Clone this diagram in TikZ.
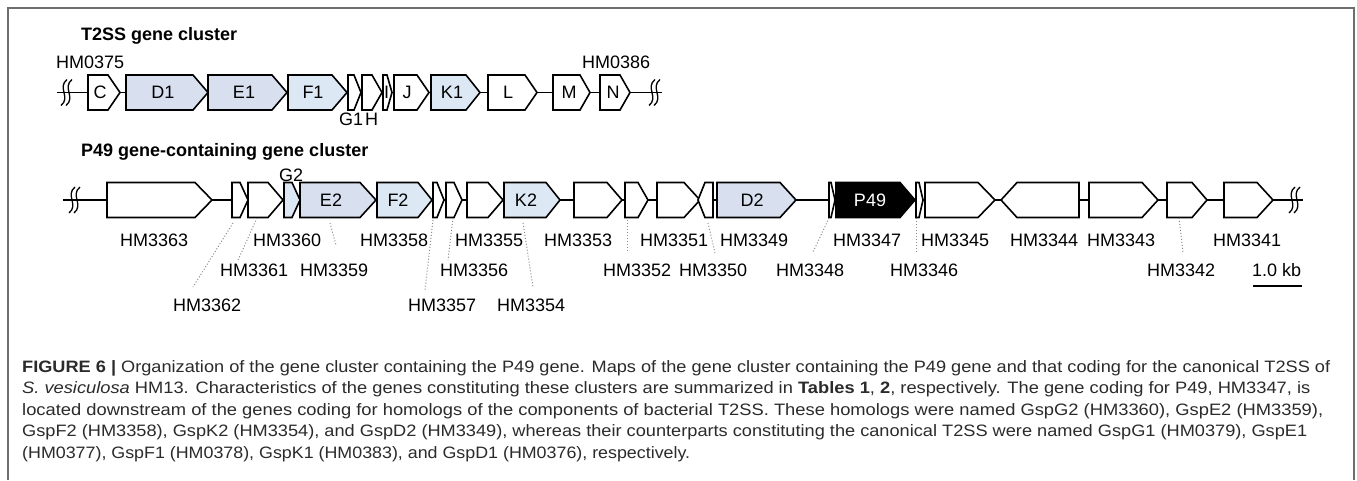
\documentclass[tikz,border=0pt]{standalone}
\usepackage{fontspec}
\setmainfont{Liberation Sans}
\usepackage{graphicx}
\definecolor{lav}{HTML}{D8E0EF}
\definecolor{lblue}{HTML}{DCE9F5}
\definecolor{framec}{HTML}{6E6E6E}
\definecolor{capc}{HTML}{2B2B2B}
\definecolor{leadc}{HTML}{8A8A8A}
% forward gene: x1, x2, y, head, fill, name
\newcommand\genef[6]{%
  \draw[genestyle,fill=#5] (#1,#3-17.5) -- ({#2-#4},#3-17.5) -- (#2,#3) -- ({#2-#4},#3+17.5) -- (#1,#3+17.5) -- cycle;
  \coordinate (#6) at ({(#1+#2)/2},#3);}
% reverse gene
\newcommand\gener[6]{%
  \draw[genestyle,fill=#5] (#1,#3) -- ({#1+#4},#3-17.5) -- (#2,#3-17.5) -- (#2,#3+17.5) -- ({#1+#4},#3+17.5) -- cycle;
  \coordinate (#6) at ({(#1+#2)/2},#3);}
% break mark
\newcommand\brkmark[2]{%
  \draw[brk] ({#1+1},#2-13) .. controls ({#1-9},#2-5) and ({#1+5},#2+5) .. ({#1-5},#2+13);
  \draw[brk] ({#1+6},#2-13) .. controls ({#1-4},#2-5) and ({#1+10},#2+5) .. ({#1},#2+13);}
\begin{document}
\begin{tikzpicture}[x=1pt,y=-1pt,
  genestyle/.style={draw=black,line width=1.6pt,line join=miter},
  lab/.style={inner sep=0pt,anchor=base west,font=\fontsize{18}{20}\selectfont},
  glab/.style={inner sep=0pt,font=\fontsize{18}{20}\selectfont},
  ttl/.style={inner sep=0pt,anchor=base west,font=\fontsize{18}{20}\selectfont\bfseries},
  lead/.style={draw=leadc,dotted,line width=1pt},
  axisline/.style={line width=1.5pt},
  brk/.style={line width=1.3pt},
  capl/.style={inner sep=0pt,anchor=base west,text=capc,font=\fontsize{16.5}{18}\selectfont}]
\useasboundingbox (0,0) rectangle (1357,480);
\fill[white] (0,0) rectangle (1357,480);
\draw[framec,line width=1.5pt] (8,480) -- (8,8) -- (1354,8) -- (1354,480);

% ---------- titles
\node[ttl] (t1) at (81,40.5) {T2SS gene cluster};
\node[ttl] (t2) at (81,156) {P49 gene-containing gene cluster};

% ---------- top cluster
\coordinate (topL) at (57,92.5);
\coordinate (topR) at (662,92.5);
\draw[axisline] (topL) -- (topR);
\brkmark{66}{92.5}
\brkmark{654}{92.5}
\genef{88}{120}{92.5}{12}{white}{gC}
\genef{126}{208}{92.5}{15}{lav}{gD1}
\genef{208}{287}{92.5}{15}{lav}{gE1}
\genef{288}{347}{92.5}{15}{lblue}{gF1}
\genef{348}{361}{92.5}{7}{white}{gG1}
\genef{362}{382}{92.5}{10}{white}{gH}
\genef{383}{392}{92.5}{5}{white}{gI}
\genef{394}{429}{92.5}{12}{white}{gJ}
\genef{431}{480}{92.5}{14}{lblue}{gK1}
\genef{488}{537}{92.5}{12}{white}{gL}
\genef{553}{590}{92.5}{10}{white}{gM}
\genef{600}{630}{92.5}{10}{white}{gN}
\node[glab] (nC) at (100,92.5) {C};
\node[glab] (nD1) at (163,92.5) {D1};
\node[glab] (nE1) at (244,92.5) {E1};
\node[glab] (nF1) at (313,92.5) {F1};
\node[glab] (nI) at (386.5,92.5) {I};
\node[glab] (nJ) at (407,92.5) {J};
\node[glab] (nK1) at (452,92.5) {K1};
\node[glab] (nL) at (508,92.5) {L};
\node[glab] (nM) at (569,92.5) {M};
\node[glab] (nN) at (613,92.5) {N};
\node[lab] (l0375) at (56,68) {HM0375};
\node[lab] (l0386) at (582,68) {HM0386};
\node[lab] (lG1) at (339,125) {G1};
\node[lab] (lH) at (365,125) {H};

% ---------- bottom cluster
\coordinate (botL) at (63,200);
\coordinate (botR) at (1303,200);
\draw[axisline] (botL) -- (botR);
\brkmark{74}{200}
\brkmark{1294}{200}
\genef{107}{212}{200}{17}{white}{g3363}
\genef{232}{248}{200}{8}{white}{g3362}
\genef{248}{283}{200}{15}{white}{g3361}
\genef{284}{300}{200}{8}{lblue}{g3360}
\genef{300}{376}{200}{16}{lav}{g3359}
\genef{377}{432}{200}{14}{lblue}{g3358}
\genef{433}{444}{200}{7}{white}{g3357}
\genef{446}{462}{200}{8}{white}{g3356}
\genef{467}{503}{200}{15}{white}{g3355}
\genef{504}{560}{200}{14}{lblue}{g3354}
\genef{574}{622}{200}{15}{white}{g3353}
\genef{625}{648}{200}{10}{white}{g3352}
\genef{657}{700}{200}{16}{white}{g3351}
\gener{698}{713}{200}{7}{white}{g3350}
\genef{717}{796}{200}{16}{lav}{g3349}
\genef{829}{835}{200}{4}{white}{g3348}
\genef{836}{915}{200}{15}{black}{g3347}
\genef{916}{923}{200}{4}{white}{g3346}
\genef{925}{995}{200}{17}{white}{g3345}
\gener{1001}{1079}{200}{16}{white}{g3344}
\genef{1089}{1158}{200}{16}{white}{g3343}
\genef{1167}{1207}{200}{15}{white}{g3342}
\genef{1224}{1273}{200}{16}{white}{g3341}
\node[glab] (nE2) at (331,200) {E2};
\node[glab] (nF2) at (398,200) {F2};
\node[glab] (nK2) at (526,200) {K2};
\node[glab] (nD2) at (752,200) {D2};
\node[glab,text=white] (nP49) at (870,200) {P49};
\node[lab] (lG2) at (279,181) {G2};

% row 1 labels
\node[lab] (l3363) at (120,246) {HM3363};
\node[lab] (l3360) at (253,246) {HM3360};
\node[lab] (l3358) at (360,246) {HM3358};
\node[lab] (l3355) at (455,246) {HM3355};
\node[lab] (l3353) at (544,246) {HM3353};
\node[lab] (l3351) at (640,246) {HM3351};
\node[lab] (l3349) at (720,246) {HM3349};
\node[lab] (l3347) at (833,246) {HM3347};
\node[lab] (l3345) at (921,246) {HM3345};
\node[lab] (l3344) at (1010,246) {HM3344};
\node[lab] (l3343) at (1087,246) {HM3343};
\node[lab] (l3341) at (1213,246) {HM3341};
% row 2 labels
\node[lab] (l3361) at (220,276) {HM3361};
\node[lab] (l3359) at (300,276) {HM3359};
\node[lab] (l3356) at (440,276) {HM3356};
\node[lab] (l3352) at (603,276) {HM3352};
\node[lab] (l3350) at (679,276) {HM3350};
\node[lab] (l3348) at (776,276) {HM3348};
\node[lab] (l3346) at (890,276) {HM3346};
\node[lab] (l3342) at (1147,276) {HM3342};
\node[lab] (lkb) at (1252,276) {1.0 kb};
% row 3 labels
\node[lab] (l3362) at (173,311) {HM3362};
\node[lab] (l3357) at (408,311) {HM3357};
\node[lab] (l3354) at (497,311) {HM3354};

% scale bar
\coordinate (sbL) at (1253,286);
\coordinate (sbR) at (1302,286);
\draw[line width=1.5pt] (sbL) -- (sbR);

% leaders
\coordinate (a3362) at (233,223); \coordinate (b3362) at (193,287);
\coordinate (a3361) at (257,218); \coordinate (b3361) at (238,260);
\coordinate (a3359) at (330,223); \coordinate (b3359) at (336,245);
\coordinate (a3357) at (433,220); \coordinate (b3357) at (425,290);
\coordinate (a3356) at (453,218); \coordinate (b3356) at (448,260);
\coordinate (a3354) at (523,223); \coordinate (b3354) at (533,287);
\coordinate (a3352) at (627,220); \coordinate (b3352) at (627,252);
\coordinate (a3350) at (708,223); \coordinate (b3350) at (715,253);
\coordinate (a3348) at (829,218); \coordinate (b3348) at (813,252);
\coordinate (a3346) at (916,218); \coordinate (b3346) at (916,252);
\coordinate (a3342) at (1179,218); \coordinate (b3342) at (1183,252);
\foreach \k in {3362,3361,3359,3357,3356,3354,3352,3350,3348,3346,3342}
  \draw[lead] (a\k) -- (b\k);

% ---------- caption
\node[capl] (c1) at (22,372) {\resizebox{1308pt}{\height}{{\bfseries FIGURE 6 |} Organization of the gene cluster containing the P49 gene. Maps of the gene cluster containing the P49 gene and that coding for the canonical T2SS of}};
\node[capl] (c2) at (22,393.5) {\resizebox{1288pt}{\height}{\textit{S. vesiculosa} HM13. Characteristics of the genes constituting these clusters are summarized in \textbf{Tables 1}, \textbf{2}, respectively. The gene coding for P49, HM3347, is}};
\node[capl] (c3) at (22,415) {\resizebox{1301pt}{\height}{located downstream of the genes coding for homologs of the components of bacterial T2SS. These homologs were named GspG2 (HM3360), GspE2 (HM3359),}};
\node[capl] (c4) at (22,436.5) {\resizebox{1285pt}{\height}{GspF2 (HM3358), GspK2 (HM3354), and GspD2 (HM3349), whereas their counterparts constituting the canonical T2SS were named GspG1 (HM0379), GspE1}};
\node[capl] (c5) at (22,458) {\resizebox{668pt}{\height}{(HM0377), GspF1 (HM0378), GspK1 (HM0383), and GspD1 (HM0376), respectively.}};
\end{tikzpicture}
\end{document}
